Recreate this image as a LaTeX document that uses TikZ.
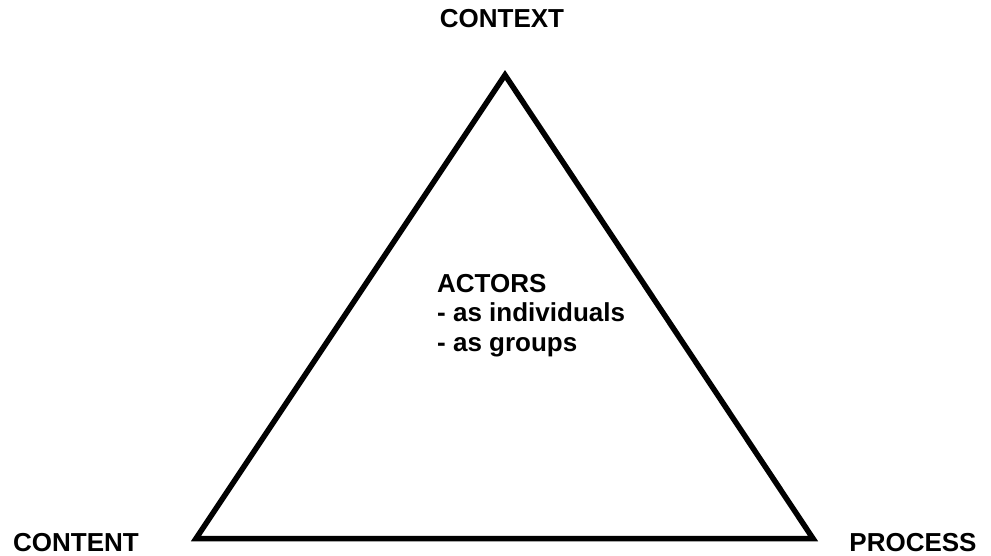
\documentclass[tikz,border=0pt]{standalone}
\usepackage{fontspec}
\setmainfont{Liberation Sans}
\usetikzlibrary{positioning}
\tikzstyle{corner}=[font=\bfseries\fontsize{26}{29.5}\selectfont,inner sep=0pt,anchor=base]
\tikzstyle{side}=[line width=5.5pt,line join=miter]
\begin{document}
\begin{tikzpicture}[x=1pt,y=-1pt]
\useasboundingbox (0,0) rectangle (991,556);
\coordinate (top) at (505,75);
\coordinate (left) at (196,538.5);
\coordinate (right) at (813,538.5);
\draw[side] (top) -- (right) -- (left) -- cycle;
\draw (502,28) node [corner] (context) {CONTEXT};
\draw (76,551) node [corner] (content) {CONTENT};
\draw (913,551) node [corner] (process) {PROCESS};
% base anchor sits on the last line
\draw (437,351) node [corner, anchor=base west, align=left] (actors) {ACTORS\\- as individuals\\- as groups};
\end{tikzpicture}
\end{document}
